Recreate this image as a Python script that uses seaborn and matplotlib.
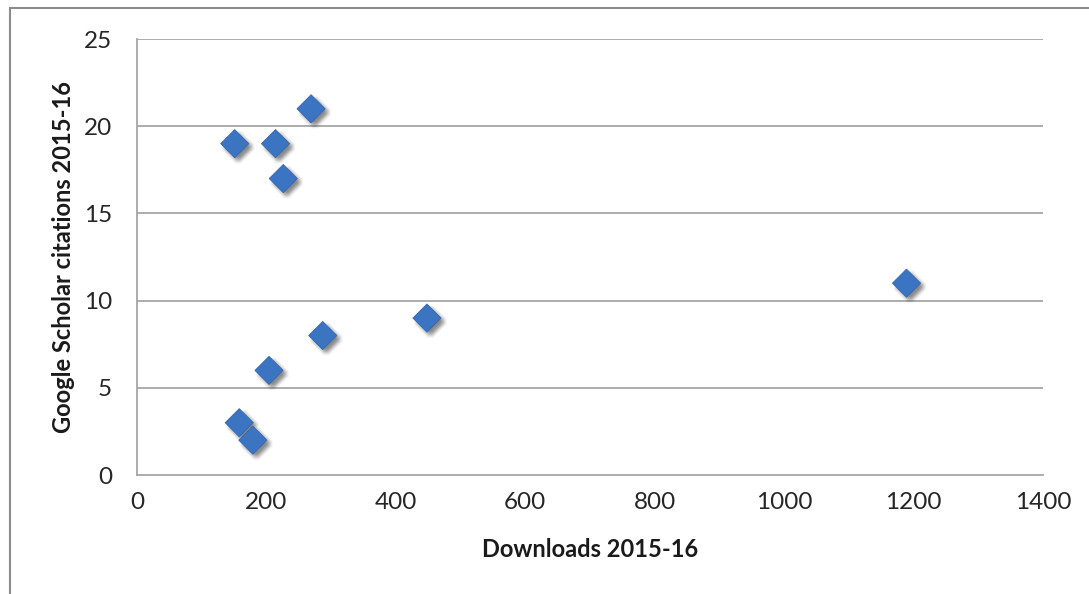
import matplotlib
matplotlib.use("Agg")
import matplotlib.pyplot as plt
import matplotlib.patheffects as pe
from matplotlib.patches import Rectangle
import seaborn as sns
import pandas as pd

downloads = [151, 214, 226, 269, 448, 287, 204, 158, 179, 1189]
citations = [19, 19, 17, 21, 9, 8, 6, 3, 2, 11]
x_ticks = [0, 200, 400, 600, 800, 1000, 1200, 1400]
y_ticks = [0, 5, 10, 15, 20, 25]

df = pd.DataFrame({"Downloads 2015-16": downloads,
                   "Google Scholar citations 2015-16": citations})

sns.set_style("white")
plt.rcParams["font.family"] = ["Lato", "DejaVu Sans"]

fig = plt.figure(figsize=(10.89, 5.94), dpi=100)
ax = fig.add_axes([0.1258, 0.2003, 0.832, 0.734])

grid_col = "#a6a6a6"
for yv in y_ticks[1:]:
    ax.axhline(yv, color=grid_col, lw=1.3, zorder=1)

sns.scatterplot(data=df, x="Downloads 2015-16", y="Google Scholar citations 2015-16",
                marker="D", s=205, color="#3b74c1", edgecolor="#3468b2", linewidth=0.6,
                ax=ax, zorder=3)

# soft drop shadow built from many faint offset copies
shadow = []
for dx in (0.5, 1.5, 2.5, 3.5, 4.5):
    for dy in (-0.5, -1.5, -2.5, -3.5, -4.5):
        shadow.append(pe.SimplePatchShadow(offset=(dx, dy), shadow_rgbFace="#404040", alpha=0.035))
for coll in ax.collections:
    coll.set_path_effects(shadow + [pe.Normal()])

ax.set_xlim(0, 1400)
ax.set_ylim(0, 25)
ax.set_xticks(x_ticks)
ax.set_yticks(y_ticks)
ax.tick_params(axis="both", direction="out", length=6, width=1.2, color=grid_col,
               labelsize=17.5, labelcolor="#262626", pad=6)
ax.tick_params(axis="y", pad=11, length=7)
for side in ["top", "right"]:
    ax.spines[side].set_visible(False)
for side in ["left", "bottom"]:
    ax.spines[side].set_color(grid_col)
    ax.spines[side].set_linewidth(1.3)

ax.set_xlabel("Downloads 2015-16", fontsize=17, fontweight="bold", color="#1a1a1a", labelpad=18)
ax.set_ylabel("Google Scholar citations 2015-16", fontsize=17, fontweight="bold", color="#1a1a1a", labelpad=6)

fig.patches.append(Rectangle((10 / 1089, -0.1), 1.2, 0.1 + (594 - 8) / 594,
                             transform=fig.transFigure, fill=False,
                             edgecolor="#8c8c8c", linewidth=1.5))

fig.savefig("out.png", dpi=100)
